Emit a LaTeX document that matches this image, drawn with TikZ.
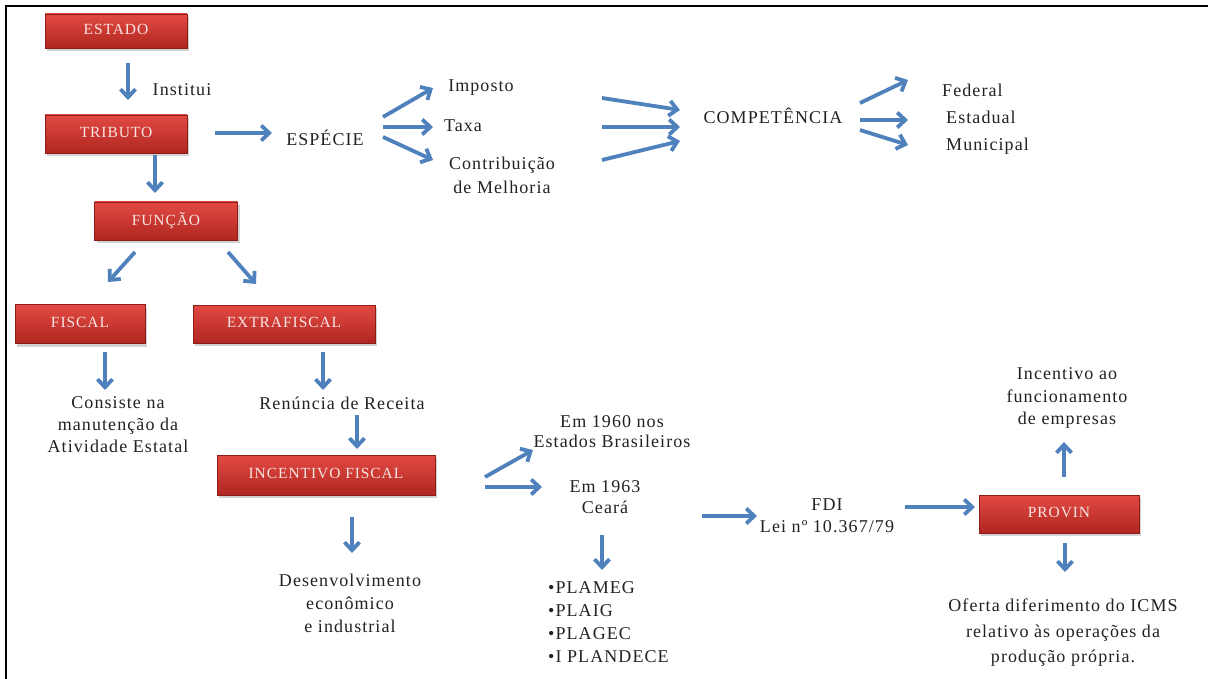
\documentclass[tikz,border=0pt]{standalone}
\usepackage{fontspec}
\setmainfont{Liberation Serif}[LetterSpace=6]
\usetikzlibrary{arrows.meta,calc,shadows}
\definecolor{arrblue}{HTML}{4F81BD}
\definecolor{boxtop}{HTML}{E24A43}
\definecolor{boxbot}{HTML}{B02620}
\definecolor{boxline}{HTML}{8C1C17}
\definecolor{boxtext}{HTML}{F7E4E2}
\definecolor{txt}{HTML}{222222}
\tikzset{
  redbox/.style={draw=boxline, line width=0.6pt, top color=boxtop, bottom color=boxbot,
    text=boxtext, font=\fontsize{15.5}{17}\selectfont, inner sep=0pt, text depth=3pt,
    drop shadow={shadow xshift=2pt, shadow yshift=-3pt, opacity=0.35}},
  lbl/.style={text=txt, font=\fontsize{18}{22}\selectfont, inner sep=0pt, align=center},
  arr/.style={draw=arrblue, line width=3.8pt, -{Straight Barb[length=8pt,width=15pt]}},
}
\begin{document}
\begin{tikzpicture}[x=1pt,y=-1pt]
\useasboundingbox (0,0) rectangle (1208,679);
\fill[white] (0,0) rectangle (1208,679);
\draw[line width=2.6pt] (5,6) -- (1208,6);
\draw[line width=2.6pt] (6,5) -- (6,679);

% boxes
\node[redbox, minimum width=142pt, minimum height=34pt] (estado) at (116,31) {ESTADO};
\node[redbox, minimum width=142pt, minimum height=38pt] (tributo) at (116,134) {TRIBUTO};
\node[redbox, minimum width=143pt, minimum height=38pt] (funcao) at (166,221) {FUNÇÃO};
\node[redbox, minimum width=130pt, minimum height=39pt] (fiscal) at (80,324) {FISCAL};
\node[redbox, minimum width=182pt, minimum height=38pt] (extra) at (284,324) {EXTRAFISCAL};
\node[redbox, minimum width=218pt, minimum height=40pt] (incent) at (326,475) {INCENTIVO FISCAL};
\node[redbox, minimum width=160pt, minimum height=38pt] (provin) at (1059,514) {PROVIN};

% labels
\node[lbl] (inst) at (182,90) {Institui};
\node[lbl] (esp) at (325,138) {ESPÉCIE};
\node[lbl] (imp) at (481,88) {Imposto};
\node[lbl] (taxa) at (463,126) {Taxa};
\node[lbl, font=\fontsize{18}{24}\selectfont] (contr) at (502,175) {Contribuição\\de Melhoria};
\node[lbl] (comp) at (773,116) {COMPETÊNCIA};
\node[lbl, anchor=west] (fed) at (942,90) {Federal};
\node[lbl, anchor=west] (est) at (946,117) {Estadual};
\node[lbl, anchor=west] (mun) at (946,146) {Municipal};
\node[lbl] (cons) at (118,425) {Consiste na\\manutenção da\\Atividade Estatal};
\node[lbl] (ren) at (342,403) {Renúncia de Receita};
\node[lbl, font=\fontsize{18}{23}\selectfont] (des) at (350,603) {Desenvolvimento\\econômico\\e industrial};
\node[lbl, font=\fontsize{18}{20}\selectfont] (e60) at (612,432) {Em 1960 nos\\Estados Brasileiros};
\node[lbl, font=\fontsize{18}{21}\selectfont] (e63) at (605,497) {Em 1963\\Ceará};
\node[lbl] (fdi) at (827,516) {FDI\\Lei nº 10.367/79};
\node[lbl, align=left, anchor=north west, font=\fontsize{18}{23}\selectfont] (plans) at (548,581) {•PLAMEG\\•PLAIG\\•PLAGEC\\•I PLANDECE};
\node[lbl, font=\fontsize{18}{22.5}\selectfont] (inc) at (1067,398) {Incentivo ao\\funcionamento\\de empresas};
\node[lbl, font=\fontsize{18}{25.5}\selectfont] (ofe) at (1063,633) {Oferta diferimento do ICMS\\relativo às operações da\\produção própria.};

% arrows
\draw[arr] ($(estado)+(12,32)$) -- ($(tributo)+(12,-34)$);
\draw[arr] ($(tributo)+(99,-1)$) -- ($(esp)+(-53,-5)$);
\draw[arr] ($(tributo)+(39,21)$) -- ($(funcao)+(-11,-28)$);
\draw[arr] ($(esp)+(58,-21)$) -- ($(imp)+(-48,0)$);
\draw[arr] ($(esp)+(58,-11)$) -- ($(taxa)+(-30,1)$);
\draw[arr] ($(esp)+(58,-1)$) -- ($(contr)+(-69,-15)$);
\draw[arr] ($(imp)+(121,10)$) -- ($(comp)+(-93,-6)$);
\draw[arr] ($(taxa)+(139,1)$) -- ($(comp)+(-93,11)$);
\draw[arr] ($(contr)+(100,-15)$) -- ($(comp)+(-93,25)$);
\draw[arr] ($(comp)+(87,-13)$) -- ($(fed.west)+(-34,-10)$);
\draw[arr] ($(comp)+(87,4)$) -- ($(est.west)+(-38,3)$);
\draw[arr] ($(comp)+(87,14)$) -- ($(mun.west)+(-38,-1)$);
\draw[arr] ($(funcao)+(-31,31)$) -- ($(fiscal)+(28,-42)$);
\draw[arr] ($(funcao)+(62,31)$) -- ($(extra)+(-28,-40)$);
\draw[arr] ($(fiscal)+(25,28)$) -- ($(cons)+(-13,-35)$);
\draw[arr] ($(extra)+(39,28)$) -- ($(ren)+(-19,-13)$);
\draw[arr] ($(ren)+(15,12)$) -- ($(incent)+(31,-26)$);
\draw[arr] ($(incent)+(26,42)$) -- ($(des)+(2,-50)$);
\draw[arr] ($(incent)+(159,2)$) -- ($(e60)+(-79,18)$);
\draw[arr] ($(incent)+(159,12)$) -- ($(e63)+(-63,-10)$);
\draw[arr] ($(e63)+(-3,38)$) -- ($(plans.north west)+(54,-11)$);
\draw[arr] ($(e63)+(97,19)$) -- ($(fdi)+(-70,0)$);
\draw[arr] ($(fdi)+(78,-9)$) -- ($(provin)+(-84,-7)$);
\draw[arr] ($(provin)+(5,-37)$) -- ($(inc)+(-3,44)$);
\draw[arr] ($(provin)+(6,29)$) -- ($(ofe)+(2,-61)$);
\end{tikzpicture}
\end{document}
